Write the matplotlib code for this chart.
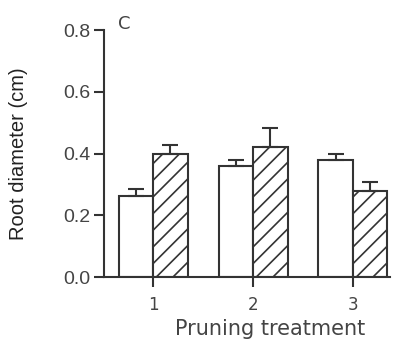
import numpy as np
import matplotlib
matplotlib.use('Agg')
import matplotlib.pyplot as plt

treatments = [1, 2, 3]
tick_labels = ['1', '2', '3']
open_mean = [0.262, 0.360, 0.379]
open_err = [0.023, 0.019, 0.019]
hatch_mean = [0.400, 0.422, 0.280]
hatch_err = [0.029, 0.061, 0.029]

plt.rcParams['hatch.linewidth'] = 1.2
fig = plt.figure(figsize=(4.02, 3.42), dpi=100)
ax = fig.add_axes([0.259, 0.19, 0.711, 0.722])

x = np.array(treatments, dtype=float)
w = 0.345
ink = '#333333'
ekw = dict(ecolor=ink, elinewidth=1.5, capsize=6, capthick=1.5)
ax.bar(x - w / 2, open_mean, w, yerr=[np.zeros(3), open_err], color='white',
       edgecolor=ink, linewidth=1.5, error_kw=ekw)
ax.bar(x + w / 2, hatch_mean, w, yerr=[np.zeros(3), hatch_err], color='white',
       edgecolor=ink, linewidth=1.5, hatch='//', error_kw=ekw)

ax.set_xlim(0.51, 3.37)
ax.set_ylim(0, 0.8)
ax.set_yticks([0.0, 0.2, 0.4, 0.6, 0.8])
ax.set_yticklabels(['0.0', '0.2', '0.4', '0.6', '0.8'], fontsize=14,
                   color='#444444', family='Liberation Sans')
ax.set_xticks(x)
ax.set_xticklabels(tick_labels, fontsize=12, color='#444444')
for s in ['top', 'right']:
    ax.spines[s].set_visible(False)
for s in ['left', 'bottom']:
    ax.spines[s].set_linewidth(1.5)
    ax.spines[s].set_color(ink)
ax.tick_params(direction='out', length=7, width=1.5, color=ink, pad=3)
ax.tick_params(axis='x', pad=7)
ax.set_xlabel('Pruning treatment', fontsize=15, color='#444444', labelpad=3)
ax.xaxis.label.set_x(0.58)
ax.set_ylabel('Root diameter (cm)', fontsize=14.5, color='#222222',
              family='Liberation Sans', labelpad=25)
ax.text(0.65, 0.85, 'C', fontsize=13, color='#444444', ha='left', va='top')

fig.savefig('out.png', dpi=100)
